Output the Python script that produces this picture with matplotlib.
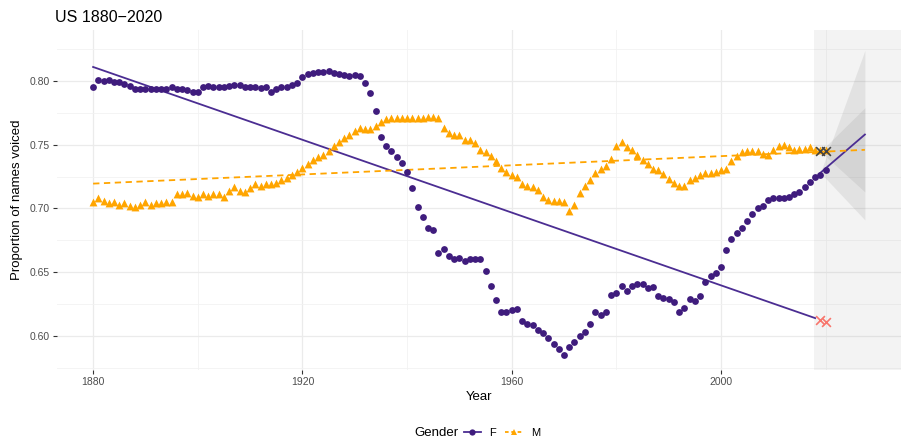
import numpy as np
import matplotlib
matplotlib.use("Agg")
import matplotlib.pyplot as plt
from matplotlib.lines import Line2D
from matplotlib.ticker import MultipleLocator

plt.rcParams['font.family'] = ['Liberation Sans', 'DejaVu Sans']

## Yearly proportion of voiced names, by gender

years = np.arange(1880, 2021)

female = [
    0.795, 0.801, 0.800, 0.801, 0.799, 0.799, 0.798, 0.796, 0.794, 0.794,   # 1880s
    0.7935, 0.794, 0.7935, 0.794, 0.794, 0.795, 0.794, 0.794, 0.793, 0.7915,  # 1890s
    0.7915, 0.7955, 0.796, 0.7955, 0.7955, 0.7955, 0.796, 0.7965, 0.7965, 0.7955,  # 1900s
    0.795, 0.795, 0.7945, 0.795, 0.7915, 0.7935, 0.795, 0.7955, 0.797, 0.7985,  # 1910s
    0.803, 0.8055, 0.8065, 0.8073, 0.8073, 0.8078, 0.8065, 0.8055, 0.8047, 0.804,  # 1920s
    0.8047, 0.804, 0.7987, 0.7903, 0.7767, 0.756, 0.749, 0.745, 0.740, 0.736,  # 1930s
    0.729, 0.716, 0.701, 0.693, 0.685, 0.683, 0.665, 0.668, 0.663, 0.660,  # 1940s
    0.661, 0.659, 0.660, 0.660, 0.660, 0.651, 0.639, 0.628, 0.619, 0.619,  # 1950s
    0.620, 0.621, 0.612, 0.609, 0.6086, 0.6047, 0.602, 0.5987, 0.594, 0.590,  # 1960s
    0.585, 0.591, 0.595, 0.600, 0.603, 0.609, 0.619, 0.6165, 0.619, 0.632,  # 1970s
    0.634, 0.639, 0.6355, 0.6395, 0.6405, 0.6405, 0.6374, 0.6387, 0.631, 0.6295,  # 1980s
    0.629, 0.6265, 0.619, 0.6217, 0.629, 0.6275, 0.631, 0.6426, 0.647, 0.649,  # 1990s
    0.654, 0.6675, 0.676, 0.6805, 0.6845, 0.690, 0.696, 0.700, 0.702, 0.7067,  # 2000s
    0.708, 0.7085, 0.708, 0.709, 0.711, 0.713, 0.717, 0.721, 0.7245, 0.726,  # 2010s
    0.730,
]

male = [
    0.705, 0.708, 0.706, 0.704, 0.705, 0.703, 0.704, 0.702, 0.701, 0.703,
    0.705, 0.703, 0.704, 0.704, 0.705, 0.705, 0.711, 0.711, 0.712, 0.710,
    0.709, 0.711, 0.710, 0.711, 0.711, 0.709, 0.714, 0.717, 0.714, 0.713,
    0.716, 0.719, 0.718, 0.719, 0.719, 0.720, 0.722, 0.724, 0.726, 0.729,
    0.732, 0.735, 0.738, 0.740, 0.742, 0.745, 0.749, 0.752, 0.755, 0.758,
    0.761, 0.763, 0.762, 0.762, 0.765, 0.768, 0.770, 0.771, 0.771, 0.771,
    0.771, 0.771, 0.771, 0.771, 0.772, 0.772, 0.771, 0.763, 0.759, 0.758,
    0.758, 0.754, 0.754, 0.751, 0.746, 0.744, 0.741, 0.737, 0.732, 0.729,
    0.726, 0.725, 0.719, 0.718, 0.717, 0.7145, 0.709, 0.707, 0.706, 0.706,
    0.705, 0.698, 0.703, 0.712, 0.718, 0.722, 0.728, 0.731, 0.733, 0.739,
    0.749, 0.752, 0.748, 0.746, 0.742, 0.738, 0.735, 0.731, 0.730, 0.727,
    0.723, 0.720, 0.718, 0.718, 0.722, 0.724, 0.726, 0.728, 0.728, 0.729,
    0.730, 0.731, 0.737, 0.741, 0.744, 0.745, 0.745, 0.745, 0.743, 0.742,
    0.746, 0.749, 0.750, 0.748, 0.746, 0.747, 0.747, 0.748, 0.746, 0.746,
    0.746,
]

# linear trends
f_fit_years = [1880, 2018]
f_fit = [0.811, 0.614]
m_fit_years = [1880, 2027.5]
m_fit = [0.7195, 0.746]

# out-of-sample points
pred_years = [2019, 2020]
f_pred = [0.6125, 0.6111]
m_pred = [0.7447, 0.7449]

# forecast fans
fc_years = [2019, 2027.5]
f_fc = [0.728, 0.758]
f_lo = [0.728, 0.691]
f_hi = [0.728, 0.824]
m_lo = [0.7447, 0.713]
m_hi = [0.7447, 0.779]
forecast_start = 2017.7

PURPLE = '#3F1C7D'
PURPLE_LINE = '#4B2D92'
ORANGE = '#FFA500'

fig = plt.figure(figsize=(9.01, 4.42), dpi=100)
ax = fig.add_axes([57 / 901, 1 - 370 / 442, 1 - 57 / 901, 340 / 442])

ax.axvspan(forecast_start, 2040, color='grey', alpha=0.09, lw=0, zorder=1)
ax.fill_between(fc_years, f_lo, f_hi, color='grey', alpha=0.14, lw=0, zorder=1.5)
ax.fill_between(fc_years, m_lo, m_hi, color='grey', alpha=0.14, lw=0, zorder=1.5)

ax.plot(f_fit_years, f_fit, color=PURPLE_LINE, lw=1.3, zorder=2)
ax.plot(fc_years, f_fc, color=PURPLE_LINE, lw=1.3, zorder=2)
ax.plot(m_fit_years, m_fit, color=ORANGE, lw=1.3, ls=(0, (3.5, 2.5)), zorder=2)

ax.scatter(years, female, s=24, color=PURPLE, lw=0, zorder=3)
ax.scatter(years, male, s=32, marker='^', color=ORANGE, lw=0, zorder=3)

ax.scatter(pred_years, f_pred, s=40, marker='x', color='#F8766D', lw=1.2, zorder=4)
ax.scatter(pred_years, m_pred, s=40, marker='x', color='#444444', lw=1.2, zorder=4)

ax.set_xlim(1873.1, 2034.4)
ax.set_ylim(0.5733, 0.840)
ax.set_xticks([1880, 1920, 1960, 2000])
ax.xaxis.set_minor_locator(MultipleLocator(20))
ax.set_yticks([0.60, 0.65, 0.70, 0.75, 0.80])
ax.yaxis.set_minor_locator(MultipleLocator(0.025))
ax.set_yticklabels(['0.60', '0.65', '0.70', '0.75', '0.80'])

ax.set_axisbelow(True)
ax.grid(which='major', color='#EBEBEB', lw=0.9)
ax.grid(which='minor', color='#F2F2F2', lw=0.6)
for s in ax.spines.values():
    s.set_visible(False)
ax.tick_params(which='major', length=3, width=0.8, color='#333333',
               labelsize=7.5, labelcolor='#4D4D4D', pad=2)
ax.tick_params(which='minor', length=0)

ax.set_xlabel('Year', fontsize=9.5, color='black', labelpad=3)
ax.set_ylabel('Proportion of names voiced', fontsize=9.5, color='black', labelpad=5)

fig.text(55 / 901, 1 - 17 / 442, 'US 1880\u22122020', fontsize=11.5,
         ha='left', va='center', color='black')

# legend along the bottom
fig.text(414 / 901, 1 - 433 / 442, 'Gender', fontsize=9.5, ha='left', va='center')
handles = [
    Line2D([], [], color=PURPLE_LINE, lw=1.3, marker='o', ms=4.5,
           markerfacecolor=PURPLE, markeredgewidth=0),
    Line2D([], [], color=ORANGE, lw=1.3, ls=(0, (2, 1.5)), marker='^', ms=5,
           markeredgewidth=0),
]
fig.legend(handles, ['F', 'M'], loc='center left', bbox_to_anchor=(464 / 901, 1 - 433 / 442),
           ncol=2, frameon=False, fontsize=8, handlelength=1.5, handletextpad=0.8,
           columnspacing=0.8, borderaxespad=0, borderpad=0)

fig.savefig('out.png', dpi=100)
